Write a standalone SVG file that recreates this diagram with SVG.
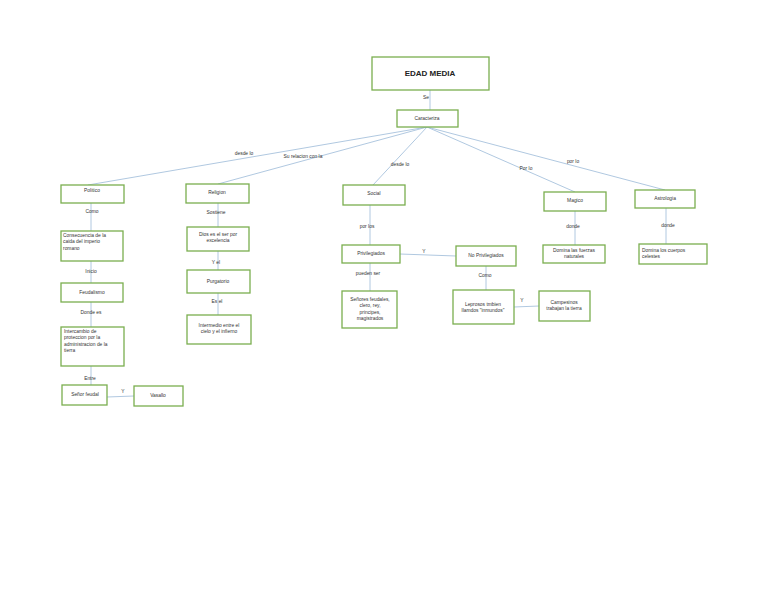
<svg xmlns="http://www.w3.org/2000/svg" width="768" height="594" viewBox="0 0 768 594">
<style>
.box{fill:#fff;stroke:#7aae4f;stroke-width:1.3}
.ln{stroke:#a7c2dd;stroke-width:0.9;fill:none}
text{font-family:"Liberation Sans","Arial",sans-serif;font-size:4.9px;fill:#333}
.c{text-anchor:middle}
.t{font-weight:bold;font-size:8px;fill:#222}
</style>
<rect width="768" height="594" fill="#fff"/>
<g id="connectors">
<line class="ln" x1="430" y1="90" x2="430" y2="110"/>
<line class="ln" x1="427" y1="127" x2="88" y2="185"/>
<line class="ln" x1="427" y1="127" x2="218" y2="184"/>
<line class="ln" x1="427" y1="127" x2="373" y2="185"/>
<line class="ln" x1="427" y1="127" x2="575" y2="192"/>
<line class="ln" x1="427" y1="127" x2="665" y2="190"/>
<line class="ln" x1="91" y1="203" x2="91" y2="231"/>
<line class="ln" x1="91" y1="261" x2="91" y2="283"/>
<line class="ln" x1="91" y1="302" x2="91" y2="327"/>
<line class="ln" x1="91" y1="366" x2="91" y2="385"/>
<line class="ln" x1="107" y1="397" x2="134" y2="396"/>
<line class="ln" x1="218" y1="203" x2="218" y2="227"/>
<line class="ln" x1="218" y1="251" x2="218" y2="270"/>
<line class="ln" x1="218" y1="293" x2="218" y2="315"/>
<line class="ln" x1="370" y1="205" x2="370" y2="245"/>
<line class="ln" x1="370" y1="263" x2="370" y2="291"/>
<line class="ln" x1="400" y1="254" x2="456" y2="256"/>
<line class="ln" x1="486" y1="266" x2="486" y2="290"/>
<line class="ln" x1="514" y1="307" x2="539" y2="306"/>
<line class="ln" x1="575" y1="211" x2="575" y2="245"/>
<line class="ln" x1="666" y1="208" x2="666" y2="244"/>
</g>
<g id="labels">
<text class="c" x="426" y="99">Se</text>
<text class="c" x="244" y="155">desde  lo</text>
<text class="c" x="303" y="158">Su relacion con la</text>
<text class="c" x="400" y="166">desde lo</text>
<text class="c" x="526" y="170">Por lo</text>
<text class="c" x="573" y="163">por lo</text>
<text class="c" x="92" y="213">Como</text>
<text class="c" x="91" y="273">Inicio</text>
<text class="c" x="91" y="314">Donde es</text>
<text class="c" x="90" y="380">Entre</text>
<text class="c" x="123" y="393">Y</text>
<text class="c" x="216" y="214">Sostiene</text>
<text class="c" x="216" y="264">Y el</text>
<text class="c" x="217" y="303">Es el</text>
<text class="c" x="367" y="228">por los</text>
<text class="c" x="368" y="275">pueden ser</text>
<text class="c" x="424" y="253">Y</text>
<text class="c" x="485" y="277">Como</text>
<text class="c" x="522" y="302">Y</text>
<text class="c" x="573" y="228">donde</text>
<text class="c" x="668" y="227">donde</text>
</g>
<g id="edad-media"><rect class="box" x="372" y="57" width="117" height="33"/><text class="c t" x="430" y="76">EDAD MEDIA</text></g>
<g id="caracteriza"><rect class="box" x="397" y="110" width="61" height="17"/><text class="c" x="427" y="120">Caracteriza</text></g>
<g id="politico"><rect class="box" x="61" y="185" width="63" height="18"/><text class="c" x="92" y="192">Politico</text></g>
<g id="religion"><rect class="box" x="186" y="184" width="63" height="19"/><text class="c" x="217" y="194">Religion</text></g>
<g id="social"><rect class="box" x="343" y="185" width="62" height="20"/><text class="c" x="374" y="195">Social</text></g>
<g id="magico"><rect class="box" x="544" y="192" width="62" height="19"/><text class="c" x="575" y="202">Magico</text></g>
<g id="astrologia"><rect class="box" x="635" y="190" width="60" height="18"/><text class="c" x="665" y="200">Astrologia</text></g>
<g id="consecuencia"><rect class="box" x="61" y="231" width="62" height="30"/><text x="63" y="237">Consecuencia de la</text><text x="63" y="243.3">caida del imperio</text><text x="63" y="249.6">romano</text></g>
<g id="feudalismo"><rect class="box" x="61" y="283" width="62" height="19"/><text class="c" x="92" y="294">Feudalismo</text></g>
<g id="intercambio"><rect class="box" x="61" y="327" width="63" height="39"/><text x="64" y="333">Intercambio de</text><text x="64" y="339.3">proteccion por la</text><text x="64" y="345.6">administracion de la</text><text x="64" y="351.9">tierra</text></g>
<g id="senor-feudal"><rect class="box" x="62" y="385" width="45" height="20"/><text class="c" x="85" y="396">Señor feudal</text></g>
<g id="vasallo"><rect class="box" x="134" y="386" width="49" height="20"/><text class="c" x="158" y="397">Vasallo</text></g>
<g id="dios"><rect class="box" x="187" y="227" width="62" height="24"/><text class="c" x="218" y="236">Dios es el ser por</text><text class="c" x="218" y="242.3">excelencia</text></g>
<g id="purgatorio"><rect class="box" x="187" y="270" width="63" height="23"/><text class="c" x="218" y="283">Purgatorio</text></g>
<g id="intermedio"><rect class="box" x="187" y="315" width="64" height="29"/><text class="c" x="219" y="327">Intermedio entre el</text><text class="c" x="219" y="333.3">cielo y el infierno</text></g>
<g id="privilegiados"><rect class="box" x="342" y="245" width="58" height="18"/><text class="c" x="371" y="255">Privilegiados</text></g>
<g id="no-privilegiados"><rect class="box" x="456" y="246" width="60" height="20"/><text class="c" x="486" y="257">No Privilegiados</text></g>
<g id="senores"><rect class="box" x="342" y="291" width="55" height="37"/><text class="c" x="370" y="301">Señores feudales,</text><text class="c" x="370" y="307.3">clero, rey,</text><text class="c" x="370" y="313.6">principes,</text><text class="c" x="370" y="320">magistrados</text></g>
<g id="leprosos"><rect class="box" x="453" y="290" width="61" height="34"/><text class="c" x="483" y="306">Leprosos tmbien</text><text class="c" x="483" y="312.3">llamdos  "inmundos"</text></g>
<g id="campesinos"><rect class="box" x="539" y="291" width="51" height="30"/><text class="c" x="564" y="304">Campesinos</text><text class="c" x="564" y="310.3">trabajan la tierra</text></g>
<g id="fuerzas"><rect class="box" x="543" y="245" width="62" height="18"/><text class="c" x="574" y="252">Domina las fuerzas</text><text class="c" x="574" y="258.3">naturales</text></g>
<g id="cuerpos"><rect class="box" x="639" y="244" width="68" height="20"/><text x="642" y="252">Domina los cuerpos</text><text x="642" y="258.3">celestes</text></g>
</svg>
